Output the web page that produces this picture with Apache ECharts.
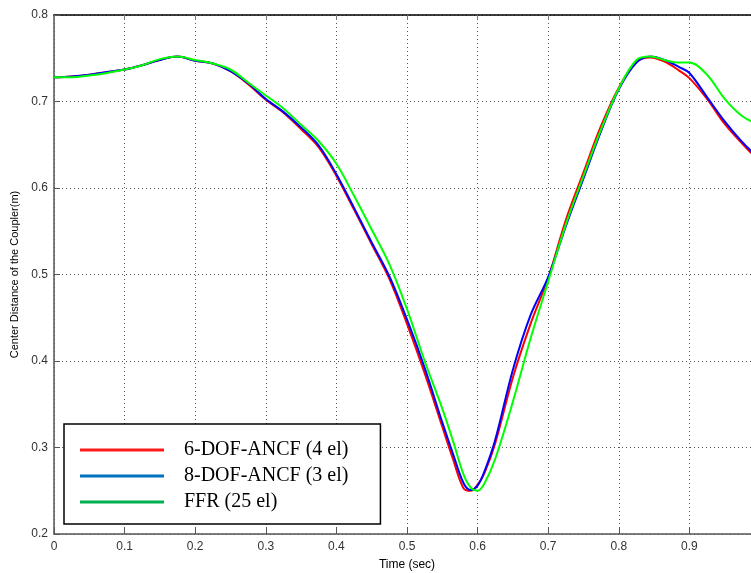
<!DOCTYPE html>
<html>
<head>
<meta charset="utf-8">
<script src="https://cdn.jsdelivr.net/npm/echarts@6/dist/echarts.min.js"></script>
<style>
html,body{margin:0;padding:0;background:#fff;}
#chart{width:751px;height:573px;}
</style>
</head>
<body>
<div id="chart"></div>
<script>
// Time samples (sec)
var time = [0, 0.025, 0.05, 0.075, 0.1, 0.125, 0.15, 0.175, 0.2, 0.225, 0.25, 0.275, 0.3, 0.325, 0.35, 0.375, 0.4, 0.425, 0.45, 0.475, 0.5, 0.525, 0.55, 0.565, 0.58, 0.59, 0.6, 0.61, 0.625, 0.65, 0.675, 0.7, 0.725, 0.75, 0.775, 0.8, 0.825, 0.845, 0.865, 0.885, 0.9, 0.925, 0.95, 0.975, 1.0];
// 6-DOF-ANCF (4 el)
var red = [0.728, 0.729, 0.731, 0.734, 0.737, 0.742, 0.748, 0.752, 0.747, 0.744, 0.735, 0.720, 0.702, 0.687, 0.668, 0.647, 0.614, 0.575, 0.535, 0.495, 0.443, 0.386, 0.324, 0.287, 0.253, 0.250, 0.257, 0.271, 0.305, 0.381, 0.443, 0.496, 0.563, 0.618, 0.672, 0.716, 0.746, 0.751, 0.746, 0.736, 0.727, 0.703, 0.674, 0.651, 0.630];
// 8-DOF-ANCF (3 el)
var blue = [0.728, 0.729, 0.731, 0.734, 0.737, 0.742, 0.748, 0.752, 0.747, 0.744, 0.735, 0.721, 0.703, 0.688, 0.670, 0.649, 0.616, 0.577, 0.537, 0.498, 0.448, 0.392, 0.329, 0.293, 0.259, 0.251, 0.256, 0.273, 0.309, 0.390, 0.453, 0.497, 0.556, 0.611, 0.666, 0.714, 0.745, 0.752, 0.748, 0.740, 0.733, 0.705, 0.677, 0.653, 0.633];
// FFR (25 el)
var green = [0.728, 0.728, 0.730, 0.733, 0.737, 0.742, 0.749, 0.752, 0.748, 0.744, 0.737, 0.722, 0.707, 0.692, 0.673, 0.654, 0.628, 0.591, 0.552, 0.512, 0.460, 0.400, 0.345, 0.308, 0.269, 0.254, 0.250, 0.259, 0.287, 0.353, 0.426, 0.492, 0.558, 0.614, 0.668, 0.715, 0.748, 0.752, 0.748, 0.745, 0.745, 0.731, 0.703, 0.683, 0.673];
var names = ['6-DOF-ANCF (4 el)', '8-DOF-ANCF (3 el)', 'FFR (25 el)'];
var lineColors = ['#ff0000', '#0000ff', '#00ff00'];
var legendColors = ['#ff1a1a', '#0070c0', '#00b050'];

function pairs(vals){ return time.map(function(t,i){ return [t, vals[i]]; }); }

var chart = echarts.init(document.getElementById('chart'), null, {renderer:'canvas'});
var labelFont = {color:'#333', fontSize:12, fontFamily:'Liberation Sans, Arial, sans-serif'};
var gridDots = {show:true, lineStyle:{color:'#555', type:[1,3], width:1}};
var seriesVals = [red, blue, green];
var option = {
  animation:false,
  backgroundColor:'#fff',
  grid:{left:54, top:15, width:706, height:519, containLabel:false, outerBoundsMode:'none'},
  xAxis:[{
    type:'value', min:0, max:1, interval:0.1, position:'bottom',
    name:'Time (sec)', nameLocation:'middle', nameGap:25,
    nameTextStyle:{color:'#000', fontSize:12, fontFamily:'Liberation Sans, Arial, sans-serif'},
    axisLine:{show:true, onZero:false, lineStyle:{color:'#555', width:1.5}},
    axisTick:{show:true, inside:true, length:6, lineStyle:{color:'#555'}},
    axisLabel:Object.assign({margin:7, formatter:function(v){return v===0?'0':v.toFixed(1);}}, labelFont),
    splitLine:gridDots
  },{
    type:'value', min:0, max:1, interval:0.1, position:'top',
    axisLine:{show:true, onZero:false, lineStyle:{color:'#000', width:1.5}},
    axisTick:{show:true, inside:true, length:5, lineStyle:{color:'#777'}},
    axisLabel:{show:false}, splitLine:{show:false}
  }],
  yAxis:[{
    type:'value', min:0.2, max:0.8, interval:0.1,
    name:'Center Distance of the Coupler(m)', nameLocation:'middle', nameGap:34,
    nameTextStyle:{color:'#000', fontSize:11, fontFamily:'Liberation Sans, Arial, sans-serif'},
    axisLine:{show:true, onZero:false, lineStyle:{color:'#555', width:1.5}},
    axisTick:{show:true, inside:true, length:6, lineStyle:{color:'#555'}},
    axisLabel:Object.assign({margin:6, formatter:function(v){return v.toFixed(1);}}, labelFont),
    splitLine:gridDots
  }],
  legend:{
    orient:'vertical', left:64, top:424,
    backgroundColor:'#fff', borderColor:'#000', borderWidth:1.5, borderRadius:0,
    padding:[16,32,12,16], itemGap:6, itemWidth:84, itemHeight:3, icon:'rect',
    textStyle:{fontFamily:'Liberation Serif, Times New Roman, serif', fontSize:20, color:'#000', lineHeight:20, padding:[0,0,0,15]},
    data:names.map(function(n,i){ return {name:n, itemStyle:{color:legendColors[i]}}; })
  },
  series:names.map(function(n,i){
    return {
      name:n, type:'line', xAxisIndex:0, yAxisIndex:0,
      data:pairs(seriesVals[i]), showSymbol:false, symbol:'none', smooth:0.35,
      lineStyle:{color:lineColors[i], width:2}, itemStyle:{color:lineColors[i]},
      z:2+i
    };
  })
};
chart.setOption(option);
</script>
</body>
</html>
